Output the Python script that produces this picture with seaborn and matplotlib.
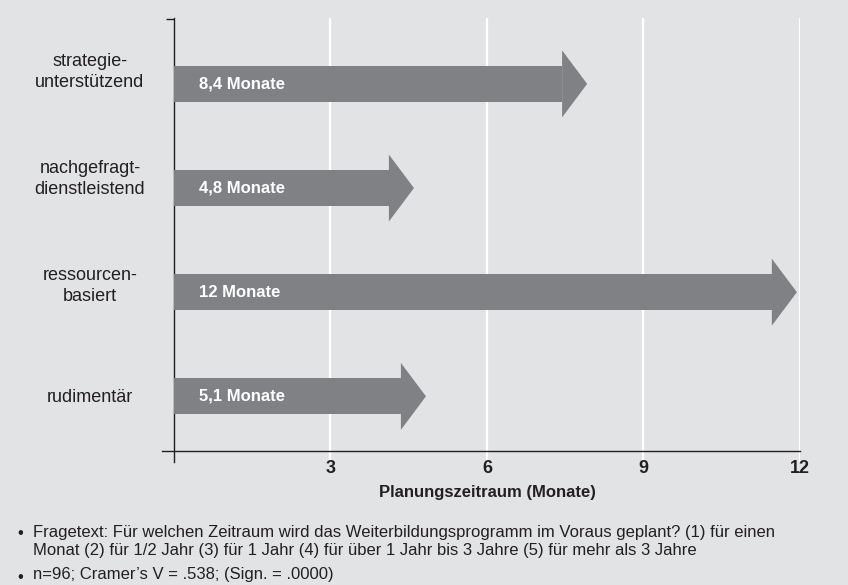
import matplotlib
matplotlib.use("Agg")
import matplotlib.pyplot as plt
import matplotlib.transforms as mtransforms
import seaborn as sns
import pandas as pd

# Data
categories = ["strategie-\nunterstützend", "nachgefragt-\ndienstleistend", "ressourcen-\nbasiert", "rudimentär"]
months = [8.4, 4.8, 12, 5.1]
value_labels = ["8,4 Monate", "4,8 Monate", "12 Monate", "5,1 Monate"]
arrow_tips = [7.92, 4.60, 11.94, 4.83]   # where the drawn arrow tips end
x_ticks = [3, 6, 9, 12]
x_label = "Planungszeitraum (Monate)"
notes = [
    "Fragetext: Für welchen Zeitraum wird das Weiterbildungsprogramm im Voraus geplant? (1) für einen\n"
    "Monat (2) für 1/2 Jahr (3) für 1 Jahr (4) für über 1 Jahr bis 3 Jahre (5) für mehr als 3 Jahre",
    "n=96; Cramer’s V = .538; (Sign. = .0000)",
]

BG = "#e2e3e5"
ARROW = "#808184"
TEXT = "#231f20"
HEAD_LEN = 0.48
BODY_W = 0.345
HEAD_W = 0.643
LABEL_SHIFT = [-0.115, -0.088, -0.06, 0.01]  # category labels sit a bit off the arrows

sns.set_theme(style="white")
plt.rcParams["font.family"] = ["Liberation Sans", "DejaVu Sans"]

df = pd.DataFrame({"kategorie": categories, "tip": arrow_tips})
df["shaft"] = df["tip"] - HEAD_LEN

fig = plt.figure(figsize=(8.48, 5.85), dpi=100, facecolor=BG)
ax = fig.add_axes([0.1916, 0.2103, 0.7518, 0.7590], facecolor=BG)

sns.barplot(data=df, x="shaft", y="kategorie", order=categories, color=ARROW,
            width=BODY_W, saturation=1, linewidth=0, ax=ax, zorder=3)

# arrow heads and labels in the arrows
for i, tip in enumerate(arrow_tips):
    base = tip - HEAD_LEN
    ax.fill([base, tip, base], [i - HEAD_W / 2, i, i + HEAD_W / 2],
            color=ARROW, linewidth=0, zorder=3)
    ax.text(0.48, i, value_labels[i], color="white", fontweight="bold",
            fontsize=12, va="center", ha="left", zorder=4)

ax.set_xlim(-0.22, 12)
ax.set_ylim(3.63, -0.633)
ax.set_xlabel("")
ax.set_ylabel("")

# spines first: moving a spine resets the ticks
for s in ["top", "right"]:
    ax.spines[s].set_visible(False)
ax.spines["left"].set_position(("data", 0))
ax.spines["left"].set_color(TEXT)
ax.spines["left"].set_linewidth(1.0)
ax.spines["bottom"].set_position(("data", 3.52))
ax.spines["bottom"].set_color(TEXT)
ax.spines["bottom"].set_linewidth(1.0)
ax.spines["bottom"].set_bounds(-0.22, 12)

ax.set_xticks(x_ticks)
ax.set_xticklabels([str(t) for t in x_ticks], fontweight="bold", fontsize=13, color=TEXT)
ax.tick_params(axis="x", length=0, pad=7)
ax.xaxis.grid(True, color="white", linewidth=1.6)
ax.set_axisbelow(True)

# small tick at the top of the value axis; category labels drawn as text
ax.set_yticks([-0.625])
ax.set_yticklabels([])
ax.tick_params(axis="y", length=6, width=1, color=TEXT, direction="out", left=True)
lab_trans = mtransforms.blended_transform_factory(fig.transFigure, ax.transData)
for i, cat in enumerate(categories):
    ax.text(90 / 848, i + LABEL_SHIFT[i], cat, transform=lab_trans, ha="center",
            va="center", fontsize=13, color=TEXT, linespacing=1.3)

fig.text(487 / 848, 1 - 492 / 585, x_label, ha="center", va="center",
         fontweight="bold", fontsize=12, color=TEXT)

note_y = [1 - 541 / 585, 1 - 575 / 585]
for y, note in zip(note_y, notes):
    first_line_y = y + (0.0171 if "\n" in note else 0) - 0.004
    fig.text(17 / 848, first_line_y, "•", ha="left", va="center", fontsize=12, color=TEXT)
    fig.text(33 / 848, y, note, ha="left", va="center", fontsize=12,
             color=TEXT, linespacing=1.25)

fig.savefig("out.png", dpi=100, facecolor=BG)
